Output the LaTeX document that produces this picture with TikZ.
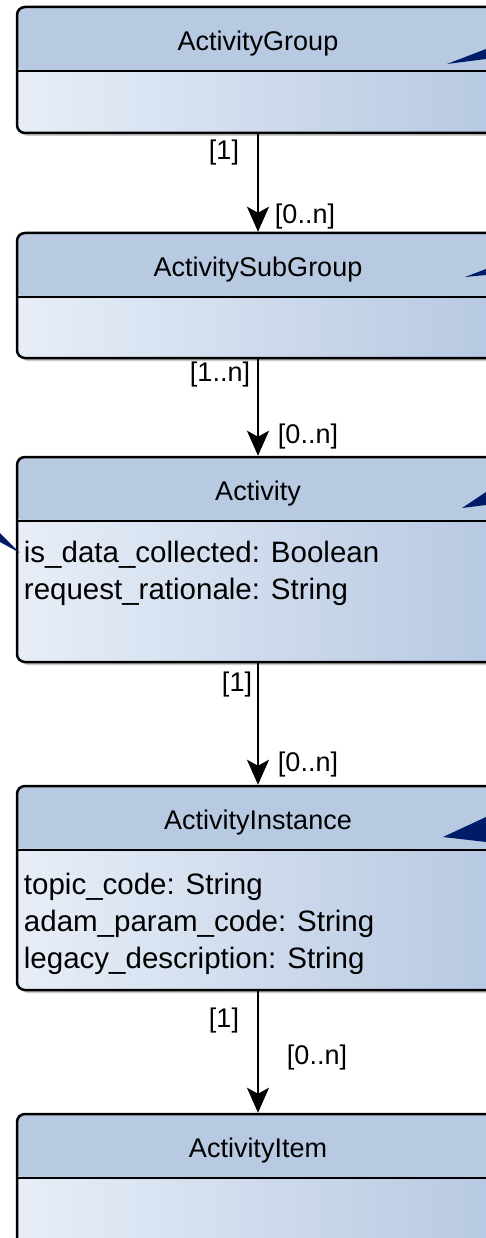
\documentclass[tikz,border=0pt]{standalone}
\usepackage{fontspec}
\setmainfont{Liberation Sans}
\usetikzlibrary{positioning,arrows.meta,shadows}

\begin{document}
\begin{tikzpicture}[x=1pt, y=-1pt,
		classbox/.style={draw=black, line width=2.5pt, rounded corners=8pt, minimum width=482pt,
			left color=bodyleft, right color=bodyright,
			drop shadow={shadow xshift=3pt, shadow yshift=-3pt, opacity=0.3, fill=black!70},
			path picture={
				\fill[headfill] (path picture bounding box.north west) rectangle ([yshift=-64pt]path picture bounding box.north east);
				\draw[line width=2pt] ([yshift=-64pt]path picture bounding box.north west) -- ([yshift=-64pt]path picture bounding box.north east);
			}},
		classname/.style={font=\fontsize{27}{32}\selectfont, inner sep=0pt, anchor=base},
		attrs/.style={font=\fontsize{29.5}{37}\selectfont, align=left, inner sep=0pt, anchor=north west},
		mult/.style={font=\fontsize{27}{32}\selectfont, inner sep=0pt},
		conn/.style={line width=2pt, -{Stealth[length=25pt, width=22pt, inset=6pt]}}]
		% Define colors
		\definecolor{headfill}{RGB}{184, 201, 226}
		\definecolor{bodyleft}{RGB}{232, 238, 247}
		\definecolor{bodyright}{RGB}{182, 200, 226}
		\definecolor{navyfill}{RGB}{0, 28, 104}
		
		\useasboundingbox (0,0) rectangle (486,1238);
		
		% CLASSES
		% ActivityGroup
		\node[classbox, minimum height=126pt] (grp) at (258,70) {};
		\node[classname] (grp-name) at ([yshift=-45pt]grp.north) {ActivityGroup};
		
		% ActivitySubGroup
		\node[classbox, minimum height=125pt] (sub) at (258,295.5) {};
		\node[classname] (sub-name) at ([yshift=-45pt]sub.north) {ActivitySubGroup};
		
		% Activity
		\node[classbox, minimum height=205pt] (act) at (258,559.5) {};
		\node[classname] (act-name) at ([yshift=-45pt]act.north) {Activity};
		\node[attrs] (act-attrs) at ([xshift=8pt, yshift=-85pt]act.north west) {is\_data\_collected: Boolean\\request\_rationale: String};
		
		% ActivityInstance
		\node[classbox, minimum height=204pt] (inst) at (258,888) {};
		\node[classname] (inst-name) at ([yshift=-45pt]inst.north) {ActivityInstance};
		\node[attrs] (inst-attrs) at ([xshift=8pt, yshift=-88pt]inst.north west) {topic\_code: String\\adam\_param\_code: String\\legacy\_description: String};
		
		% ActivityItem
		\node[classbox, minimum height=132pt] (item) at (258,1180) {};
		\node[classname] (item-name) at ([yshift=-45pt]item.north) {ActivityItem};
		
		% ASSOCIATIONS
		\draw[conn] (grp.south) -- (sub.north);
		\node[mult] (grp-m1) at (224,153) {[1]};
		\node[mult] (grp-m2) at (305,217) {[0..n]};
		
		\draw[conn] (sub.south) -- (act.north);
		\node[mult] (sub-m1) at (220,375) {[1..n]};
		\node[mult] (sub-m2) at (308,437) {[0..n]};
		
		\draw[conn] (act.south) -- (inst.north);
		\node[mult] (act-m1) at (237,685) {[1]};
		\node[mult] (act-m2) at (308,765) {[0..n]};
		
		\draw[conn] (inst.south) -- (item.north);
		\node[mult] (inst-m1) at (224,1021) {[1]};
		\node[mult] (inst-m2) at (317,1058) {[0..n]};
		
		% Wedges coming in from outside
		\fill[navyfill] (447,64) -- (486,49) -- (486,59) -- cycle;
		\fill[navyfill] (465,277) -- (486,269) -- (486,275) -- cycle;
		\fill[navyfill] (462,508) -- (486,492) -- (486,505) -- cycle;
		\fill[navyfill] (443,837) -- (486,817) -- (486,842) -- cycle;
		\fill[navyfill] (0,533) -- (0,542) -- (20,553) -- cycle;
		
	\end{tikzpicture}
\end{document}
